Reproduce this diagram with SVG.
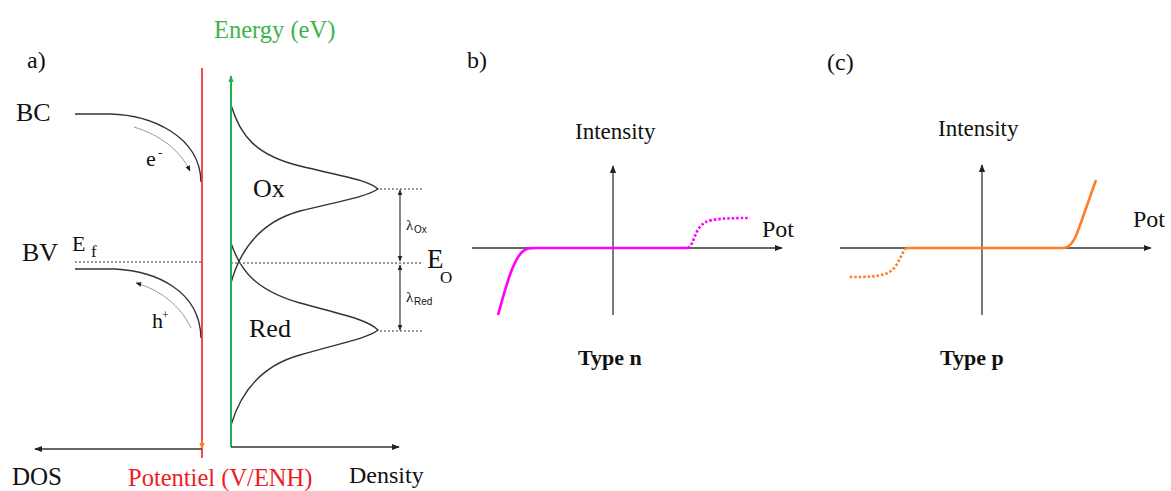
<svg xmlns="http://www.w3.org/2000/svg" width="1171" height="491" viewBox="0 0 1171 491" font-family="'Liberation Serif', 'Times New Roman', 'DejaVu Serif', serif">
<defs>
<style>
text{fill:#111}
.sans{font-family:"Liberation Sans",Arial,sans-serif}
.ax{stroke:#333;stroke-width:1.3;fill:none}
.crv{stroke:#333;stroke-width:1.4;fill:none}
.dot{stroke:#777;stroke-width:1.3;stroke-dasharray:2,2;fill:none}
.thin{stroke:#999;stroke-width:1;fill:none}
.bold{font-weight:bold}
</style>
<marker id="ah" viewBox="0 0 10 10" refX="9" refY="5" markerWidth="8" markerHeight="8" markerUnits="userSpaceOnUse" orient="auto"><path d="M0,1 L10,5 L0,9 Z" fill="#222"/></marker>
<marker id="ahs" viewBox="0 0 10 10" refX="9" refY="5" markerWidth="6" markerHeight="6" markerUnits="userSpaceOnUse" orient="auto-start-reverse"><path d="M0,1 L10,5 L0,9 Z" fill="#222"/></marker>
<marker id="ahg" viewBox="0 0 10 10" refX="9" refY="5" markerWidth="7" markerHeight="7" markerUnits="userSpaceOnUse" orient="auto"><path d="M0,1 L10,5 L0,9 Z" fill="#22b14c"/></marker>
<marker id="aho" viewBox="0 0 10 10" refX="9" refY="5" markerWidth="7" markerHeight="7" markerUnits="userSpaceOnUse" orient="auto"><path d="M0,1 L10,5 L0,9 Z" fill="#ff7f27"/></marker>
</defs>
<rect width="1171" height="491" fill="#fff"/>

<g id="panel-a">
<text x="27" y="68" font-size="24">a)</text>
<text x="214" y="38" font-size="24.5" style="fill:#3cb44b">Energy (eV)</text>
<text x="16" y="121" font-size="26">BC</text>
<text x="22" y="261" font-size="26">BV</text>
<text x="72" y="251" font-size="22">E</text>
<text x="91" y="257" font-size="17">f</text>
<text x="146" y="166" font-size="22">e</text>
<text x="158" y="157" font-size="13">-</text>
<text x="152" y="328" font-size="22">h</text>
<text x="162" y="319" font-size="12">+</text>
<text x="253" y="197" font-size="26">Ox</text>
<text x="249" y="337" font-size="26">Red</text>
<text x="406" y="230" font-size="15">λ</text>
<text x="414" y="233" font-size="10" class="sans">Ox</text>
<text x="406" y="302" font-size="15">λ</text>
<text x="414" y="305" font-size="10" class="sans">Red</text>
<text x="427" y="268" font-size="27">E</text>
<text x="440" y="283" font-size="17">O</text>
<text x="12" y="485" font-size="25">DOS</text>
<text x="128" y="486" font-size="24.5" style="fill:#ee1c24">Potentiel (V/ENH)</text>
<text x="349" y="483" font-size="24">Density</text>

<!-- band bending -->
<path class="crv" d="M75,114 L110,114 C150,115 200,135 201,182"/>
<path class="thin" d="M134,127 C160,135 180,150 190,171" marker-end="url(#ahs)"/>
<path class="crv" d="M75,269 L115,269 C155,271 200,290 201,338"/>
<path class="thin" d="M191,328 C180,305 160,290 136,283" marker-end="url(#ahs)"/>
<line class="dot" x1="75" y1="262" x2="201" y2="262"/>

<!-- Gaussians -->
<path class="crv" d="M231,105 C240,135 255,155 300,166 C345,177 368,180 378,189 C368,196 345,200 300,211 C260,222 240,250 231,283"/>
<path class="crv" d="M231,243 C240,270 255,290 300,303 C345,315 368,320 378,330 C368,338 345,342 300,355 C260,366 240,395 231,425"/>
<line class="dot" x1="380" y1="189" x2="422" y2="189"/>
<line class="dot" x1="231" y1="263" x2="422" y2="263"/>
<line class="dot" x1="380" y1="331" x2="422" y2="331"/>
<line x1="400" y1="190" x2="400" y2="261" stroke="#333" stroke-width="1.2" marker-start="url(#ahs)" marker-end="url(#ahs)"/>
<line x1="400" y1="265" x2="400" y2="330" stroke="#333" stroke-width="1.2" marker-start="url(#ahs)" marker-end="url(#ahs)"/>

<!-- axes -->
<line x1="202" y1="68" x2="202" y2="458" stroke="#ee1c24" stroke-width="1.6"/>
<line x1="202" y1="440" x2="202" y2="449" stroke="#ff7f27" stroke-width="1" marker-end="url(#aho)"/>
<line x1="231" y1="447" x2="231" y2="76" stroke="#22b14c" stroke-width="2" marker-end="url(#ahg)"/>
<line class="ax" x1="202" y1="449" x2="35" y2="449" marker-end="url(#ah)"/>
<line class="ax" x1="231" y1="447" x2="399" y2="447" marker-end="url(#ah)"/>
</g>

<g id="panel-b">
<text x="467" y="68" font-size="24">b)</text>
<text x="575" y="139" font-size="23">Intensity</text>
<text x="762" y="237" font-size="24">Pot</text>
<text x="578" y="365" font-size="22" class="bold">Type n</text>
<line class="ax" x1="472" y1="248" x2="782" y2="248" marker-end="url(#ah)"/>
<line class="ax" x1="613" y1="315" x2="613" y2="166" marker-end="url(#ah)"/>
<path d="M498,315 C505,290 512,262 522,252 C526,248 530,248 536,248 L688,248" stroke="#ff00ff" stroke-width="2.6" fill="none"/>
<path d="M688,248 C695,244 694,228 706,222 C712,219 725,218 750,218" stroke="#ff00ff" stroke-width="2.6" stroke-dasharray="2.5,2" fill="none"/>
</g>

<g id="panel-c">
<text x="827" y="70" font-size="24">(c)</text>
<text x="938" y="136" font-size="23">Intensity</text>
<text x="1133" y="227" font-size="24">Pot</text>
<text x="940" y="365" font-size="22" class="bold">Type p</text>
<line class="ax" x1="840" y1="248" x2="1151" y2="248" marker-end="url(#ah)"/>
<line class="ax" x1="982" y1="315" x2="982" y2="165" marker-end="url(#ah)"/>
<path d="M906,248 L1062,248 C1070,248 1074,242 1079,228 L1096,180" stroke="#ff7f27" stroke-width="2.6" fill="none"/>
<path d="M906,248 C900,255 898,270 885,274 C875,277 865,277 848,277" stroke="#ff7f27" stroke-width="2.6" stroke-dasharray="2.5,2" fill="none"/>
</g>
</svg>
